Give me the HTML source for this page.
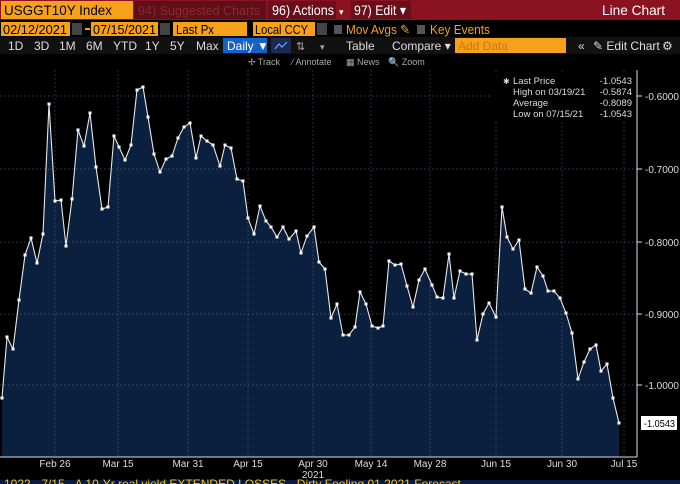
<!DOCTYPE html>
<html><head><style>
body{margin:0;width:680px;height:484px;background:#000;overflow:hidden;font-family:"Liberation Sans",sans-serif;}
svg{display:block}
</style></head><body>
<svg width="680" height="484" xmlns="http://www.w3.org/2000/svg" font-family="Liberation Sans, sans-serif">
<defs><marker id="m" markerWidth="4" markerHeight="4" refX="2" refY="2" markerUnits="userSpaceOnUse"><rect x="0.5" y="0.5" width="3" height="3" fill="#fff"/></marker></defs>
<rect width="680" height="484" fill="#000"/>
<!-- row 1 -->
<rect x="0" y="0" width="680" height="20" fill="#8b1220"/>
<rect x="1" y="1" width="132" height="18" fill="#f7a11a"/>
<text x="4" y="15" font-size="14" fill="#000" textLength="108" lengthAdjust="spacingAndGlyphs">USGGT10Y Index</text>
<rect x="134" y="1" width="132" height="18" fill="#5e0f17"/>
<text x="138" y="15" font-size="13" fill="#8a2a30" textLength="122" lengthAdjust="spacingAndGlyphs">94) Suggested Charts</text>
<rect x="268" y="1" width="68" height="18" fill="#6a0f1a"/>
<text x="272" y="15" font-size="14" fill="#fff" textLength="62" lengthAdjust="spacingAndGlyphs">96) Actions</text>
<text x="339" y="15" font-size="9" fill="#fff">▾</text>
<rect x="351" y="1" width="60" height="18" fill="#6a0f1a"/>
<text x="354" y="15" font-size="14" fill="#fff" textLength="52" lengthAdjust="spacingAndGlyphs">97) Edit ▾</text>
<text x="665" y="15" font-size="14" fill="#fff" text-anchor="end" textLength="63" lengthAdjust="spacingAndGlyphs">Line Chart</text>
<!-- row 2 -->
<rect x="1" y="22" width="69" height="14" fill="#f7a11a"/><text x="3" y="34" font-size="13" fill="#000" textLength="64" lengthAdjust="spacingAndGlyphs">02/12/2021</text>
<rect x="72" y="23" width="10" height="12" fill="#444"/>
<rect x="85" y="28" width="5" height="2" fill="#f7a11a"/>
<rect x="91" y="22" width="67" height="14" fill="#f7a11a"/><text x="93" y="34" font-size="13" fill="#000" textLength="63" lengthAdjust="spacingAndGlyphs">07/15/2021</text>
<rect x="160" y="23" width="10" height="12" fill="#444"/>
<rect x="173" y="22" width="74" height="14" fill="#f7a11a"/><text x="176" y="34" font-size="13" fill="#000" textLength="38" lengthAdjust="spacingAndGlyphs">Last Px</text>
<rect x="253" y="22" width="62" height="14" fill="#f7a11a"/><text x="255" y="34" font-size="13" fill="#000" textLength="53" lengthAdjust="spacingAndGlyphs">Local CCY</text>
<rect x="317" y="23" width="10" height="12" fill="#444"/>
<rect x="334" y="25" width="8" height="9" fill="#555"/>
<text x="346" y="34" font-size="13" fill="#f7a11a" textLength="64" lengthAdjust="spacingAndGlyphs">Mov Avgs ✎</text>
<rect x="417" y="25" width="8" height="9" fill="#555"/>
<text x="430" y="34" font-size="13" fill="#f7a11a" textLength="60" lengthAdjust="spacingAndGlyphs">Key Events</text>
<!-- row 3 -->
<rect x="0" y="37" width="680" height="17" fill="#111"/>
<g font-size="12" fill="#ddd">
<text x="8" y="50">1D</text><text x="34" y="50">3D</text><text x="59" y="50">1M</text><text x="86" y="50">6M</text><text x="113" y="50">YTD</text><text x="145" y="50">1Y</text><text x="170" y="50">5Y</text><text x="196" y="50">Max</text>
</g>
<rect x="223" y="38" width="44" height="15" fill="#1560c9"/><text x="227" y="50" font-size="12" fill="#fff">Daily ▼</text>
<rect x="271" y="38" width="20" height="15" fill="#1a2a50"/>
<polyline points="275,49 279,44 282,47 287,42" fill="none" stroke="#6af" stroke-width="1.2"/>
<text x="296" y="50" font-size="11" fill="#aaa">⇅</text>
<text x="320" y="50" font-size="9" fill="#aaa">▾</text>
<text x="346" y="50" font-size="12" fill="#ddd">Table</text>
<text x="392" y="50" font-size="12" fill="#ddd">Compare ▾</text>
<rect x="455" y="38" width="111" height="15" fill="#f7a11a"/><text x="458" y="50" font-size="12" fill="#c9781a">Add Data</text>
<text x="578" y="50" font-size="12" fill="#ddd">«</text>
<text x="593" y="50" font-size="12" fill="#ddd">✎ Edit Chart</text>
<text x="662" y="50" font-size="12" fill="#ddd">⚙</text>
<!-- row 4 -->
<g font-size="9" fill="#aaa"><text x="248" y="65">✢ Track</text><text x="292" y="65">⁄ Annotate</text><text x="346" y="65">▦ News</text><text x="388" y="65">🔍 Zoom</text></g>
<!-- fill -->
<polygon fill="#0b203f" points="2,457 2,398 7,337 13,349 19,300 25,255 31,238 37,263 43,234 49,104 55,201 61,200 66,246 72,199 78,130 84,146 90,113 96,167 102,209 108,207 114,136 119,147 125,160 131,145 137,90 143,87 148,117 154,154 160,172 166,159 172,156 178,138 184,127 190,123 196,158 201,136 207,141 213,145 220,166 225,145 231,148 237,179 243,181 248,218 254,234 260,206 266,221 271,227 277,237 283,227 289,239 296,231 301,253 307,236 314,227 319,262 325,269 331,318 337,304 343,335 349,335 355,327 360,292 366,304 372,326 378,328 383,326 389,261 395,265 401,264 407,286 413,307 419,280 425,269 432,285 437,297 443,298 449,254 454,298 460,271 466,274 472,274 477,340 483,314 489,303 496,317 502,207 507,237 513,249 519,240 525,289 531,293 537,267 543,276 548,291 554,291 560,298 566,313 572,333 578,379 584,362 590,349 596,345 601,371 607,364 613,398 619,423 619,457"/>
<!-- grid -->
<g stroke="#6d7d95" stroke-width="0.7" stroke-dasharray="1.5,2.5" opacity="0.7">
<line x1="55" y1="70" x2="55" y2="457"/><line x1="118" y1="70" x2="118" y2="457"/><line x1="188" y1="70" x2="188" y2="457"/><line x1="248" y1="70" x2="248" y2="457"/><line x1="313" y1="70" x2="313" y2="457"/><line x1="371" y1="70" x2="371" y2="457"/><line x1="430" y1="70" x2="430" y2="457"/><line x1="496" y1="70" x2="496" y2="457"/><line x1="562" y1="70" x2="562" y2="457"/><line x1="624" y1="70" x2="624" y2="457"/>
<line x1="0" y1="96" x2="637" y2="96"/><line x1="0" y1="169" x2="637" y2="169"/><line x1="0" y1="242" x2="637" y2="242"/><line x1="0" y1="314" x2="637" y2="314"/><line x1="0" y1="385" x2="637" y2="385"/>
</g>
<polyline fill="none" stroke="#e8e8e8" stroke-width="1.1" marker-start="url(#m)" marker-mid="url(#m)" marker-end="url(#m)" points="2,398 7,337 13,349 19,300 25,255 31,238 37,263 43,234 49,104 55,201 61,200 66,246 72,199 78,130 84,146 90,113 96,167 102,209 108,207 114,136 119,147 125,160 131,145 137,90 143,87 148,117 154,154 160,172 166,159 172,156 178,138 184,127 190,123 196,158 201,136 207,141 213,145 220,166 225,145 231,148 237,179 243,181 248,218 254,234 260,206 266,221 271,227 277,237 283,227 289,239 296,231 301,253 307,236 314,227 319,262 325,269 331,318 337,304 343,335 349,335 355,327 360,292 366,304 372,326 378,328 383,326 389,261 395,265 401,264 407,286 413,307 419,280 425,269 432,285 437,297 443,298 449,254 454,298 460,271 466,274 472,274 477,340 483,314 489,303 496,317 502,207 507,237 513,249 519,240 525,289 531,293 537,267 543,276 548,291 554,291 560,298 566,313 572,333 578,379 584,362 590,349 596,345 601,371 607,364 613,398 619,423"/>
<!-- axes -->
<line x1="637" y1="70" x2="637" y2="457" stroke="#ddd" stroke-width="1"/>
<line x1="0" y1="457" x2="637" y2="457" stroke="#ddd" stroke-width="1"/>
<g stroke="#ddd"><line x1="637" y1="96" x2="642" y2="96"/><line x1="637" y1="169" x2="642" y2="169"/><line x1="637" y1="242" x2="642" y2="242"/><line x1="637" y1="314" x2="642" y2="314"/><line x1="637" y1="385" x2="642" y2="385"/></g>
<g font-size="10" fill="#ddd"><text x="645" y="100">-0.6000</text><text x="645" y="173">-0.7000</text><text x="645" y="246">-0.8000</text><text x="645" y="318">-0.9000</text><text x="645" y="389">-1.0000</text></g>
<rect x="641" y="416" width="36" height="14" fill="#fff"/><text x="644" y="427" font-size="10" fill="#000" textLength="31" lengthAdjust="spacingAndGlyphs">-1.0543</text>
<g font-size="10" fill="#ddd" text-anchor="middle">
<text x="55" y="467">Feb 26</text><text x="118" y="467">Mar 15</text><text x="188" y="467">Mar 31</text><text x="248" y="467">Apr 15</text><text x="313" y="467">Apr 30</text><text x="313" y="478">2021</text><text x="371" y="467">May 14</text><text x="430" y="467">May 28</text><text x="496" y="467">Jun 15</text><text x="562" y="467">Jun 30</text><text x="624" y="467">Jul 15</text>
</g>
<!-- legend -->
<rect x="492" y="74" width="142" height="46" fill="#000" opacity="0.85"/>
<g font-size="9.5" fill="#ddd">
<text x="513" y="84">Last Price</text><text x="632" y="84" text-anchor="end">-1.0543</text>
<text x="513" y="95">High on 03/19/21</text><text x="632" y="95" text-anchor="end">-0.5874</text>
<text x="513" y="106">Average</text><text x="632" y="106" text-anchor="end">-0.8089</text>
<text x="513" y="117">Low on 07/15/21</text><text x="632" y="117" text-anchor="end">-1.0543</text>
<text x="503" y="84" font-size="8">✱</text>
</g>
<rect x="0" y="480" width="680" height="4" fill="#0b1a40"/>
<text x="4" y="488" font-size="12" fill="#f7c21a">1022 - 7/15 - A 10-Yr real yield EXTENDED LOSSES - Dirty Fooling 01 2021 Forecast</text>
</svg>
</body></html>
